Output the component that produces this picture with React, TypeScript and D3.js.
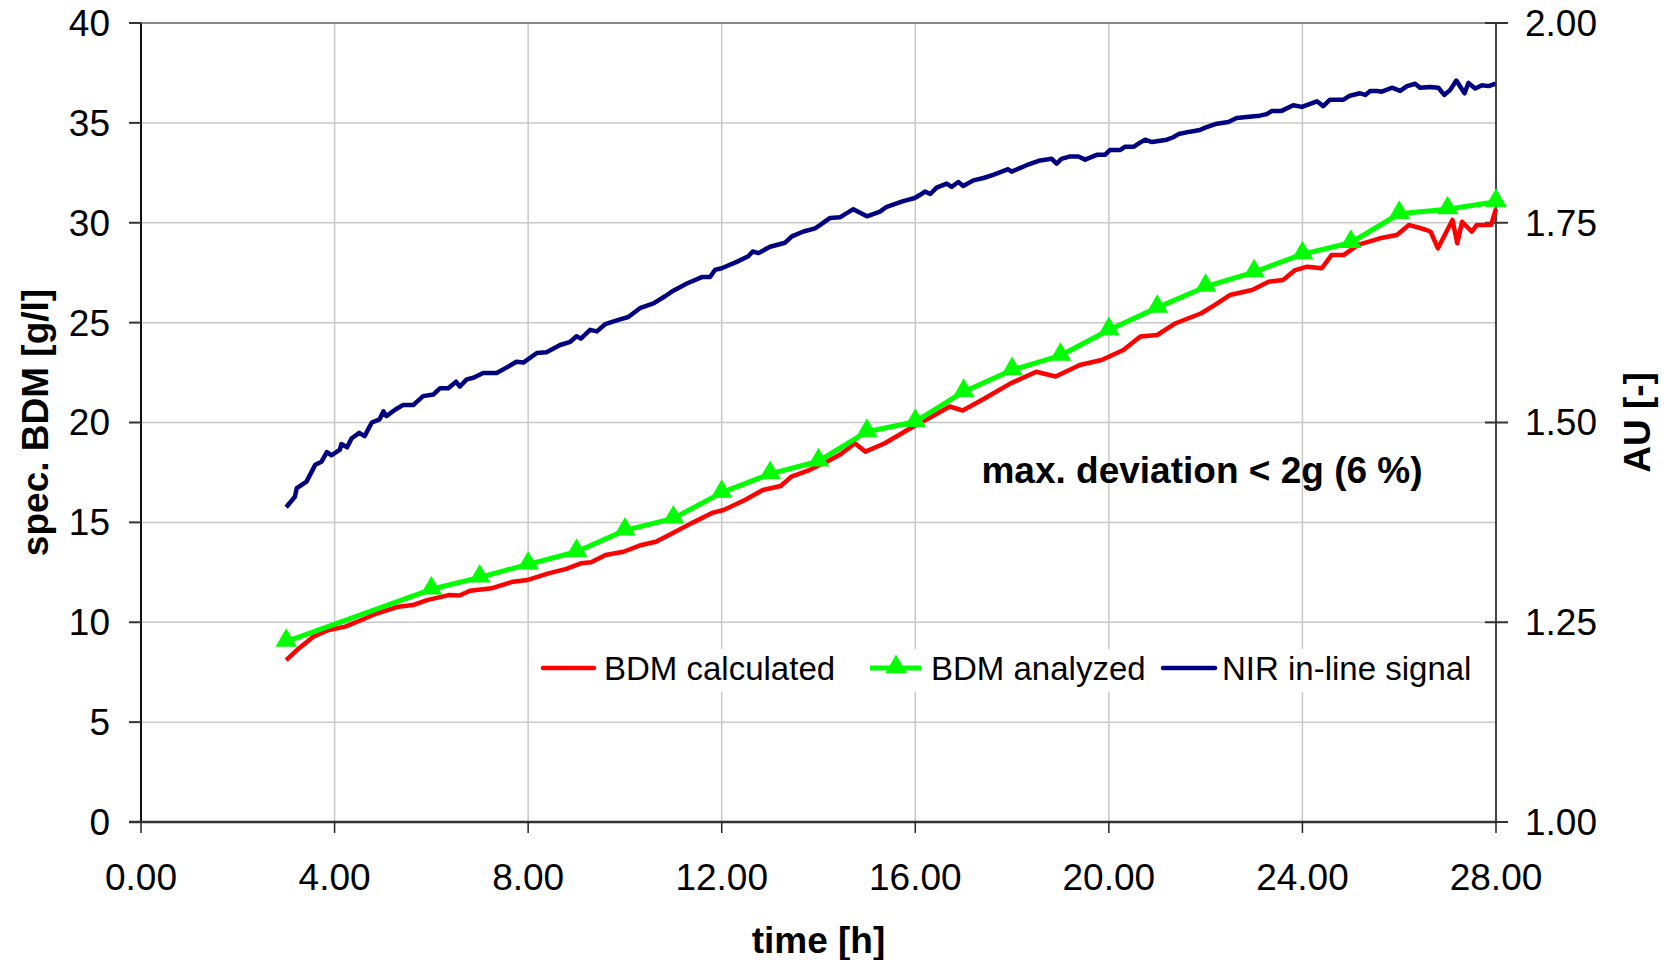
import React from "react";
import * as d3 from "d3";

// BDM calculated (red) – time [h], value [g/l]
const calcTime = [3.0, 3.26, 3.56, 3.88, 4.22, 4.59, 4.88, 5.32, 5.62, 5.91, 6.36, 6.58, 6.8, 7.24, 7.69, 7.98, 8.42, 8.79, 9.09, 9.3, 9.6, 9.97, 10.34, 10.64, 11.0, 11.37, 11.82, 12.04, 12.48, 12.85, 13.22, 13.44, 13.81, 14.03, 14.18, 14.45, 14.75, 14.97, 15.37, 15.82, 16.27, 16.71, 16.98, 17.43, 17.97, 18.5, 18.9, 19.4, 19.85, 20.3, 20.65, 21.0, 21.38, 21.91, 22.2, 22.5, 22.96, 23.3, 23.6, 23.85, 24.1, 24.4, 24.6, 24.85, 25.15, 25.6, 25.95, 26.2, 26.55, 26.65, 26.8, 27.1, 27.2, 27.3, 27.5, 27.6, 27.75, 27.9, 28.0];
const calcBdm = [8.1, 8.69, 9.28, 9.61, 9.78, 10.15, 10.45, 10.78, 10.86, 11.11, 11.36, 11.34, 11.58, 11.7, 12.03, 12.11, 12.45, 12.67, 12.95, 13.0, 13.37, 13.53, 13.87, 14.03, 14.48, 14.95, 15.49, 15.62, 16.12, 16.62, 16.82, 17.29, 17.62, 17.87, 18.05, 18.4, 18.96, 18.54, 18.96, 19.6, 20.2, 20.8, 20.6, 21.2, 21.96, 22.54, 22.3, 22.88, 23.13, 23.63, 24.3, 24.38, 24.97, 25.47, 25.9, 26.38, 26.63, 27.05, 27.13, 27.63, 27.8, 27.72, 28.38, 28.38, 28.89, 29.22, 29.39, 29.89, 29.65, 29.55, 28.72, 30.14, 28.97, 30.05, 29.55, 29.89, 29.89, 29.9, 30.7];

// BDM analyzed (green, triangles)
const anaTime = [3, 6, 7, 8, 9, 10, 11, 12, 13, 14, 15, 16, 17, 18, 19, 20, 21, 22, 23, 24, 25, 26, 27, 28];
const anaBdm = [9.03, 11.65, 12.25, 12.9, 13.53, 14.6, 15.2, 16.49, 17.43, 18.06, 19.54, 20.04, 21.54, 22.63, 23.35, 24.63, 25.75, 26.8, 27.53, 28.43, 29.0, 30.45, 30.68, 31.05];

// NIR in-line signal (navy, right axis AU)
const nirTime = [3.0, 3.18, 3.22, 3.42, 3.6, 3.73, 3.84, 3.94, 4.11, 4.14, 4.26, 4.35, 4.51, 4.62, 4.77, 4.93, 5.01, 5.07, 5.25, 5.42, 5.63, 5.83, 6.04, 6.18, 6.35, 6.51, 6.59, 6.73, 6.87, 7.07, 7.35, 7.56, 7.76, 7.9, 8.18, 8.38, 8.66, 8.87, 9.0, 9.09, 9.28, 9.42, 9.59, 9.9, 10.07, 10.31, 10.59, 10.83, 11.0, 11.28, 11.59, 11.76, 11.86, 12.0, 12.31, 12.55, 12.64, 12.76, 13.0, 13.31, 13.45, 13.69, 13.93, 14.03, 14.24, 14.45, 14.72, 15.0, 15.27, 15.41, 15.75, 15.99, 16.1, 16.2, 16.31, 16.44, 16.65, 16.75, 16.89, 16.99, 17.2, 17.41, 17.61, 17.92, 17.99, 18.3, 18.58, 18.82, 18.92, 19.02, 19.2, 19.37, 19.51, 19.75, 19.92, 20.02, 20.23, 20.33, 20.51, 20.61, 20.75, 20.89, 21.2, 21.33, 21.44, 21.68, 21.88, 21.99, 22.23, 22.47, 22.64, 22.95, 23.12, 23.26, 23.37, 23.57, 23.81, 23.99, 24.3, 24.43, 24.57, 24.85, 24.98, 25.19, 25.3, 25.4, 25.54, 25.64, 25.85, 26.02, 26.16, 26.33, 26.43, 26.64, 26.81, 26.93, 27.05, 27.18, 27.35, 27.43, 27.57, 27.71, 27.85, 27.99];
const nirAu = [1.394, 1.407, 1.418, 1.426, 1.447, 1.451, 1.463, 1.459, 1.466, 1.473, 1.469, 1.48, 1.487, 1.483, 1.5, 1.504, 1.514, 1.508, 1.516, 1.522, 1.522, 1.533, 1.535, 1.543, 1.543, 1.551, 1.545, 1.554, 1.556, 1.562, 1.562, 1.569, 1.576, 1.575, 1.587, 1.588, 1.597, 1.601, 1.608, 1.605, 1.616, 1.614, 1.623, 1.629, 1.632, 1.643, 1.649, 1.658, 1.665, 1.674, 1.682, 1.682, 1.691, 1.693, 1.701, 1.708, 1.714, 1.712, 1.72, 1.725, 1.733, 1.739, 1.743, 1.747, 1.756, 1.757, 1.767, 1.758, 1.764, 1.77, 1.777, 1.781, 1.785, 1.789, 1.786, 1.794, 1.799, 1.795, 1.801, 1.796, 1.803, 1.806, 1.81, 1.817, 1.814, 1.822, 1.828, 1.83, 1.824, 1.83, 1.833, 1.833, 1.829, 1.835, 1.835, 1.841, 1.841, 1.845, 1.845, 1.849, 1.854, 1.851, 1.854, 1.857, 1.861, 1.864, 1.866, 1.869, 1.874, 1.876, 1.881, 1.883, 1.884, 1.886, 1.89, 1.89, 1.897, 1.895, 1.902, 1.896, 1.904, 1.904, 1.909, 1.912, 1.91, 1.915, 1.915, 1.914, 1.919, 1.915, 1.921, 1.924, 1.919, 1.92, 1.919, 1.91, 1.916, 1.928, 1.912, 1.925, 1.918, 1.922, 1.921, 1.924];

const xTicks = [0, 4, 8, 12, 16, 20, 24, 28];
const yLeftTicks = [0, 5, 10, 15, 20, 25, 30, 35, 40];
const yRightTicks = [1.0, 1.25, 1.5, 1.75, 2.0];

const FONT = "'Liberation Sans', Arial, Helvetica, sans-serif";

export default function App() {
  const width = 1664, height = 960;
  const left = 141, right = 1496, top = 23, bottom = 822;

  const x = d3.scaleLinear().domain([0, 28]).range([left, right]);
  const yL = d3.scaleLinear().domain([0, 40]).range([bottom, top]);
  const yR = d3.scaleLinear().domain([1, 2]).range([bottom, top]);

  const lineL = d3.line<[number, number]>().x(d => x(d[0])).y(d => yL(d[1]));
  const lineR = d3.line<[number, number]>().x(d => x(d[0])).y(d => yR(d[1]));

  const calcPts = calcTime.map((t, i) => [t, calcBdm[i]] as [number, number]);
  const anaPts = anaTime.map((t, i) => [t, anaBdm[i]] as [number, number]);
  const nirPts = nirTime.map((t, i) => [t, nirAu[i]] as [number, number]);

  const tri = d3.symbol().type(d3.symbolTriangle).size(200)();

  const legendY = 668;

  return (
    <svg width={width} height={height} style={{ position: "absolute", left: 0, top: 0 }} fontFamily={FONT}>
      <rect width={width} height={height} fill="#fff" />

      {/* grid */}
      {xTicks.slice(1, -1).map(t => (
        <line key={"gx" + t} x1={x(t)} x2={x(t)} y1={top} y2={bottom} stroke="#c8c8c8" strokeWidth={1.5} />
      ))}
      {yLeftTicks.slice(1, -1).map(v => (
        <line key={"gy" + v} x1={left} x2={right} y1={yL(v)} y2={yL(v)} stroke="#c8c8c8" strokeWidth={1.5} />
      ))}

      {/* frame */}
      <line x1={left} x2={right} y1={top} y2={top} stroke="#888" strokeWidth={2} />
      <line x1={left} x2={left} y1={top} y2={bottom} stroke="#111" strokeWidth={2} />
      <line x1={right} x2={right} y1={top} y2={bottom} stroke="#444" strokeWidth={2} />
      <line x1={left - 12} x2={right} y1={bottom} y2={bottom} stroke="#333" strokeWidth={2.5} />

      {/* left axis */}
      {yLeftTicks.map(v => (
        <g key={"yl" + v}>
          <line x1={left - 12} x2={left} y1={yL(v)} y2={yL(v)} stroke="#333" strokeWidth={2} />
          <text x={left - 31} y={yL(v)} dy="0.35em" textAnchor="end" fontSize={37}>{v}</text>
        </g>
      ))}

      {/* right axis */}
      {yRightTicks.map(v => (
        <g key={"yr" + v}>
          <line x1={right - 11} x2={right + 12} y1={yR(v)} y2={yR(v)} stroke="#333" strokeWidth={2} />
          <text x={right + 29} y={yR(v)} dy="0.35em" textAnchor="start" fontSize={37}>{v.toFixed(2)}</text>
        </g>
      ))}

      {/* bottom axis */}
      {xTicks.map(t => (
        <g key={"xt" + t}>
          <line x1={x(t)} x2={x(t)} y1={bottom} y2={bottom + 11} stroke="#222" strokeWidth={1.5} />
          <text x={x(t)} y={890} textAnchor="middle" fontSize={37}>{t.toFixed(2)}</text>
        </g>
      ))}

      {/* axis titles */}
      <text x={(left + right) / 2} y={953} textAnchor="middle" fontSize={37} fontWeight="bold">time [h]</text>
      <text transform={`translate(48, ${(top + bottom) / 2}) rotate(-90)`} textAnchor="middle" fontSize={37} fontWeight="bold">spec. BDM [g/l]</text>
      <text transform={`translate(1650, ${(top + bottom) / 2}) rotate(-90)`} textAnchor="middle" fontSize={37} fontWeight="bold">AU [-]</text>

      {/* series */}
      <path d={lineR(nirPts) || ""} fill="none" stroke="#000080" strokeWidth={4.5} strokeLinejoin="round" />
      <path d={lineL(calcPts) || ""} fill="none" stroke="#ff0000" strokeWidth={4.5} strokeLinejoin="round" />
      <path d={lineL(anaPts) || ""} fill="none" stroke="#00ff00" strokeWidth={5} strokeLinejoin="round" />
      {anaPts.map((d, i) => (
        <path key={"tr" + i} d={tri || ""} transform={`translate(${x(d[0])}, ${yL(d[1]) - 1})`} fill="#00ff00" />
      ))}

      {/* annotation */}
      <text x={1202} y={483} textAnchor="middle" fontSize={37} fontWeight="bold">max. deviation &lt; 2g (6 %)</text>

      {/* legend */}
      <rect x={536} y={649} width={944} height={43} fill="#fff" />
      <line x1={543} x2={594} y1={legendY} y2={legendY} stroke="#ff0000" strokeWidth={4.5} strokeLinecap="round" />
      <text x={604} y={legendY} dy="0.35em" fontSize={33}>BDM calculated</text>
      <line x1={870} x2={921} y1={legendY} y2={legendY} stroke="#00ff00" strokeWidth={5} />
      <path d={tri || ""} transform={`translate(896, ${legendY - 1})`} fill="#00ff00" />
      <text x={931} y={legendY} dy="0.35em" fontSize={33}>BDM analyzed</text>
      <line x1={1163} x2={1215} y1={legendY} y2={legendY} stroke="#000080" strokeWidth={4.5} strokeLinecap="round" />
      <text x={1222} y={legendY} dy="0.35em" fontSize={33}>NIR in-line signal</text>
    </svg>
  );
}
